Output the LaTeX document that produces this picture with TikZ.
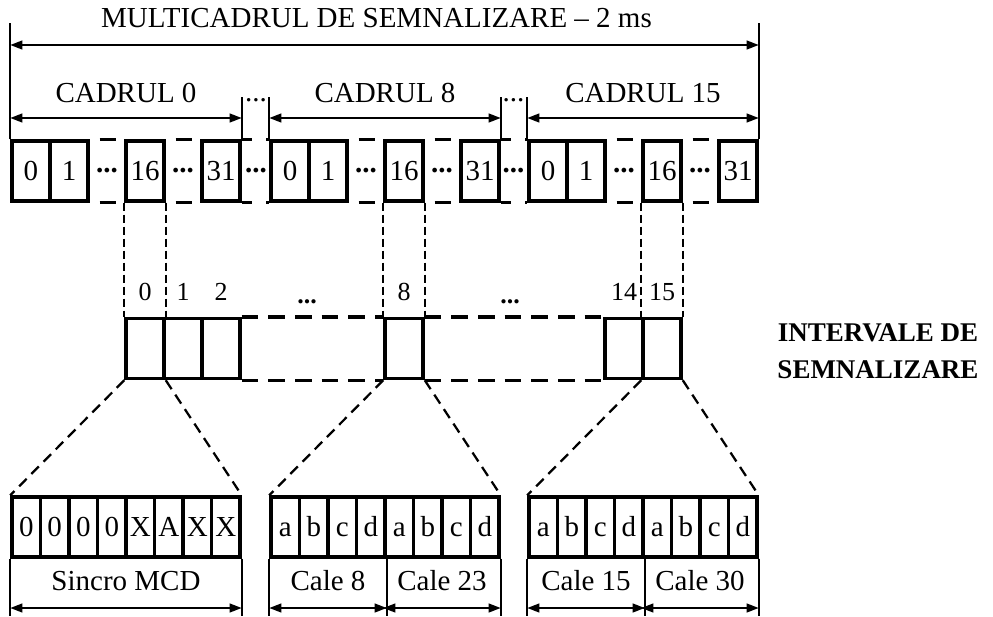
\documentclass[tikz,border=0pt]{standalone}
\usepackage{fontspec}
\setmainfont{Liberation Serif}
\usetikzlibrary{arrows.meta}
\tikzset{
  % Cells of the frame rows and of the signalling bytes.
  cell/.style  = {rectangle, draw, line width=2.6pt, minimum width=28.5pt, minimum height=45pt,
                  inner sep=0pt, text height=14.7pt, text depth=0pt, font=\fontsize{21.75}{26}\selectfont},
  bit/.style   = {rectangle, draw, line width=2.6pt, minimum width=21.375pt, minimum height=45pt,
                  inner sep=0pt, text height=14.7pt, text depth=0pt, font=\fontsize{21.75}{26}\selectfont},
  dots/.style  = {inner sep=0pt, font=\fontsize{21.75}{26}\selectfont\bfseries},
  lbl/.style   = {inner sep=0pt, font=\fontsize{21.75}{26}\selectfont},
  num/.style   = {inner sep=0pt, font=\fontsize{19.5}{24}\selectfont},
  dim/.style   = {{Triangle[length=9pt,width=6.5pt]}-{Triangle[length=9pt,width=6.5pt]}, line width=1.5pt},
  tick/.style  = {line width=1.5pt},
  gap/.style   = {line width=2.6pt, dash pattern=on 0pt off 7.5pt on 12pt off 40pt},
  fgap/.style  = {line width=2.6pt, dash pattern=on 7.5pt off 11pt on 12pt off 40pt},
  mgap/.style  = {line width=2.6pt, dash pattern=on 12.5pt off 7.5pt},
  drop/.style  = {line width=1.5pt, dash pattern=on 6pt off 3pt},
  slant/.style = {line width=1.7pt, dash pattern=on 8pt off 5pt},
}

\begin{document}
\begin{tikzpicture}[x=0.75pt, y=-0.75pt]
\useasboundingbox (0,0) rectangle (993,617);
\coordinate (ytop) at (0,23);
\coordinate (ymf)  at (0,45);
\coordinate (yfrt) at (0,97);
\coordinate (yfr)  at (0,118);
\coordinate (yarr) at (0,608);
\coordinate (ybot) at (0,616);

% frame row
\foreach \f/\xo in {a/12, b/271, c/529} {
  \foreach \i/\t in {0/0, 1/1, 3/16, 5/31}
    \node[cell] (\f\t) at (\xo+19+38*\i, 171) {\t};
  \foreach \i in {2,4}
    \node[dots] (d\f\i) at (\xo+19+38*\i, 171) {...};
  \foreach \p/\q in {1/16, 16/31} {
    \draw[gap] (\f\p.north east) -- (\f\q.north west);
    \draw[gap] (\f\p.south east) -- (\f\q.south west);
  }
}
\foreach \a/\b/\n in {a31/b0/1, b31/c0/2} {
  \draw[fgap] (\a.north east) -- (\b.north west);
  \draw[fgap] (\a.south east) -- (\b.south west);
  \draw[tick] (\a.north east) -- (\a.north east |- yfrt);
  \draw[tick] (\b.north west) -- (\b.north west |- yfrt);
}
\node[dots] (dab) at (256,171) {...};
\node[dots] (dbc) at (513.5,171) {...};
\node[lbl, anchor=base] (fab) at (256,102) {...};
\node[lbl, anchor=base] (fbc) at (513.5,102) {...};

% multiframe and frame spans
\draw[tick] (a0.north west) -- (a0.north west |- ytop);
\draw[tick] (c31.north east) -- (c31.north east |- ytop);
\draw[dim] (a0.north west |- ymf) -- node[lbl, above=12.5pt, xshift=-6pt] (mcf) {MULTICADRUL DE SEMNALIZARE -- 2 ms} (c31.north east |- ymf);
\foreach \f/\t in {a/0, b/8, c/15}
  \draw[dim] (\f0.north west |- yfr) -- node[lbl, above=11pt] (cad\t) {CADRUL \t} (\f31.north east |- yfr);

% signalling intervals
\foreach \n/\x in {0/145, 1/183, 2/221, 8/404, 14/624, 15/662} {
  \node[cell] (m\n) at (\x, 348.5) {};
  \node[num, anchor=base, yshift=12pt] (ml\n) at (m\n.north) {\n};
}
\foreach \a/\b in {m2/m8, m8/m14} {
  \draw[mgap] (\a.north east) -- (\b.north west);
  \draw[mgap] (\a.south east) -- (\b.south west);
}
\node[num, anchor=base, font=\fontsize{19.5}{24}\selectfont\bfseries] (md1) at (307,303) {...};
\node[num, anchor=base, font=\fontsize{19.5}{24}\selectfont\bfseries] (md2) at (510,303) {...};
\foreach \a/\b in {a16/m0, b16/m8, c16/m15} {
  \draw[drop] (\a.south west) -- (\b.north west);
  \draw[drop] (\a.south east) -- (\b.north east);
}
\node[lbl, align=center, font=\fontsize{20.25}{27.75}\selectfont\bfseries] (iv) at (878,351) {INTERVALE DE\\SEMNALIZARE};

% bytes of the intervals
\foreach \i/\t in {1/0, 2/0, 3/0, 4/0, 5/X, 6/A, 7/X, 8/X}
  \node[bit] (p\i) at (12+28.5*\i-14.25, 527) {\t};
\foreach \g/\xo in {q/271, r/529}
  \foreach \i/\t in {1/a, 2/b, 3/c, 4/d, 5/a, 6/b, 7/c, 8/d}
    \node[bit] (\g\i) at (\xo+28.5*\i-14.25, 527) {\t};
\foreach \m/\g in {m0/p, m8/q, m15/r} {
  \draw[slant] (\m.south west) -- (\g1.north west);
  \draw[slant] (\m.south east) -- (\g8.north east);
}
\foreach \c in {p1.south west, p8.south east, q1.south west, q4.south east, q8.south east,
                r1.south west, r4.south east, r8.south east}
  \draw[tick] (\c) -- (\c |- ybot);
\foreach \a/\b/\t/\n in {p1/p8/Sincro MCD/sin, q1/q4/Cale 8/c8, q5/q8/Cale 23/c23,
                         r1/r4/Cale 15/c15, r5/r8/Cale 30/c30}
  \draw[dim] (\a.south west |- yarr) -- node[lbl, above=12pt] (\n) {\t} (\b.south east |- yarr);
\end{tikzpicture}
\end{document}
